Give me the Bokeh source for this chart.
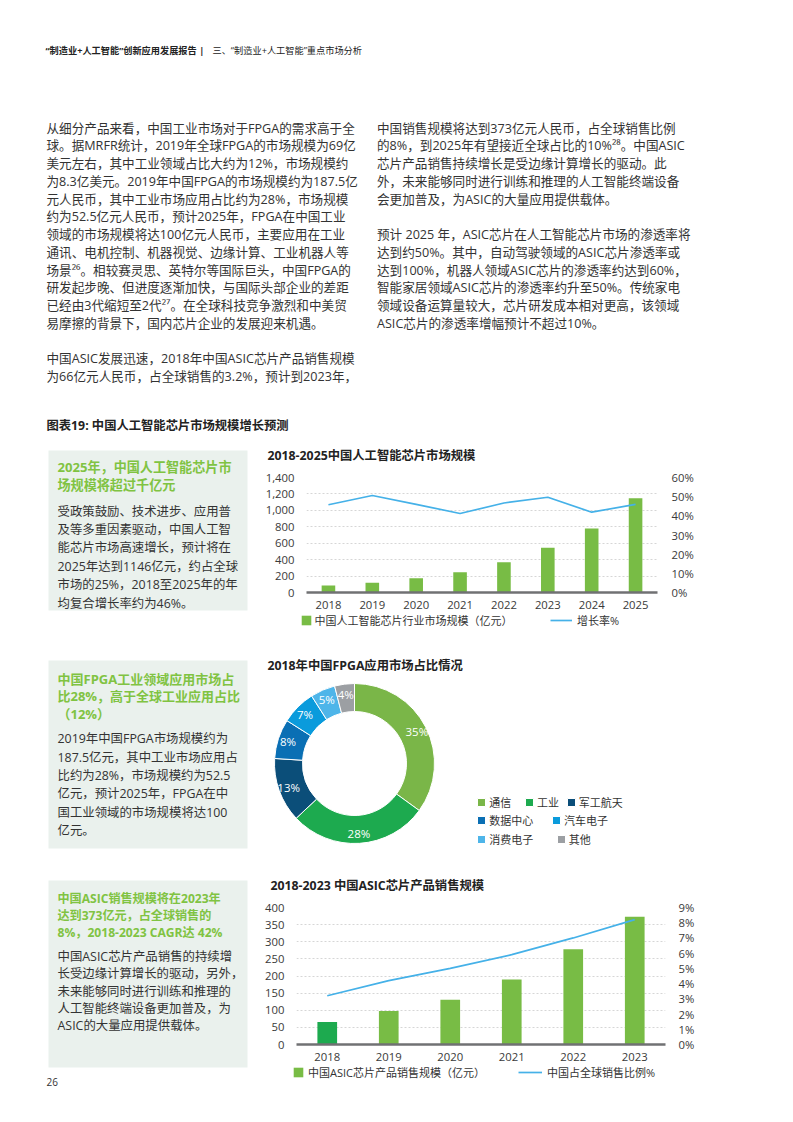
import math
from bokeh.plotting import figure
from bokeh.layouts import column, row
from bokeh.models import (Range1d, FactorRange, LinearAxis, FixedTicker, Legend, LegendItem,
                          NumeralTickFormatter, PrintfTickFormatter, ColumnDataSource)
from bokeh.core.properties import value
from bokeh.embed import file_html
from bokeh.resources import INLINE

# ---------------- data ----------------
ai_years = ["2018", "2019", "2020", "2021", "2022", "2023", "2024", "2025"]
ai_market = [84, 120, 175, 247, 367, 546, 778, 1146]          # 亿元
ai_growth = [45.8, 50.6, 46.0, 41.2, 46.7, 49.7, 41.9, 46.0]  # %
ai_left_ticks = [0, 200, 400, 600, 800, 1000, 1200, 1400]
ai_right_ticks = [0, 10, 20, 30, 40, 50, 60]

fpga_segments = ["通信", "工业", "军工航天", "数据中心", "汽车电子", "消费电子", "其他"]
fpga_share = [35, 28, 13, 8, 7, 5, 4]

asic_years = ["2018", "2019", "2020", "2021", "2022", "2023"]
asic_sales = [66, 98, 131, 190, 278, 373]                      # 亿元
asic_share = [3.2, 4.2, 5.0, 5.9, 7.0, 8.2]                    # %
asic_left_ticks = [0, 50, 100, 150, 200, 250, 300, 350, 400]
asic_right_ticks = [0, 1, 2, 3, 4, 5, 6, 7, 8, 9]

# ---------------- texts ----------------
header_bold = "“制造业+人工智能”创新应用发展报告 |"
header_norm = "三、“制造业+人工智能”重点市场分析"

left_para = [
    "从细分产品来看，中国工业市场对于FPGA的需求高于全",
    "球。据MRFR统计，2019年全球FPGA的市场规模为69亿",
    "美元左右，其中工业领域占比大约为12%，市场规模约",
    "为8.3亿美元。2019年中国FPGA的市场规模约为187.5亿",
    "元人民币，其中工业市场应用占比约为28%，市场规模",
    "约为52.5亿元人民币，预计2025年，FPGA在中国工业",
    "领域的市场规模将达100亿元人民币，主要应用在工业",
    "通讯、电机控制、机器视觉、边缘计算、工业机器人等",
    "场景²⁶。相较赛灵思、英特尔等国际巨头，中国FPGA的",
    "研发起步晚、但进度逐渐加快，与国际头部企业的差距",
    "已经由3代缩短至2代²⁷。在全球科技竞争激烈和中美贸",
    "易摩擦的背景下，国内芯片企业的发展迎来机遇。",
    "",
    "中国ASIC发展迅速，2018年中国ASIC芯片产品销售规模",
    "为66亿元人民币，占全球销售的3.2%，预计到2023年，",
]
right_para = [
    "中国销售规模将达到373亿元人民币，占全球销售比例",
    "的8%，到2025年有望接近全球占比的10%²⁸。中国ASIC",
    "芯片产品销售持续增长是受边缘计算增长的驱动。此",
    "外，未来能够同时进行训练和推理的人工智能终端设备",
    "会更加普及，为ASIC的大量应用提供载体。",
    "",
    "预计 2025 年，ASIC芯片在人工智能芯片市场的渗透率将",
    "达到约50%。其中，自动驾驶领域的ASIC芯片渗透率或",
    "达到100%，机器人领域ASIC芯片的渗透率约达到60%，",
    "智能家居领域ASIC芯片的渗透率约升至50%。传统家电",
    "领域设备运算量较大，芯片研发成本相对更高，该领域",
    "ASIC芯片的渗透率增幅预计不超过10%。",
]
fig_caption = "图表19: 中国人工智能芯片市场规模增长预测"

side1_head = ["2025年，中国人工智能芯片市", "场规模将超过千亿元"]
side1_body = ["受政策鼓励、技术进步、应用普", "及等多重因素驱动，中国人工智",
              "能芯片市场高速增长，预计将在", "2025年达到1146亿元，约占全球",
              "市场的25%，2018至2025年的年", "均复合增长率约为46%。"]
side2_head = ["中国FPGA工业领域应用市场占", "比28%，高于全球工业应用占比", "（12%）"]
side2_body = ["2019年中国FPGA市场规模约为", "187.5亿元，其中工业市场应用占",
              "比约为28%，市场规模约为52.5", "亿元，预计2025年，FPGA在中",
              "国工业领域的市场规模将达100", "亿元。"]
side3_head = ["中国ASIC销售规模将在2023年", "达到373亿元，占全球销售的",
              "8%，2018-2023 CAGR达 42%"]
side3_body = ["中国ASIC芯片产品销售的持续增", "长受边缘计算增长的驱动，另外，",
              "未来能够同时进行训练和推理的", "人工智能终端设备更加普及，为",
              "ASIC的大量应用提供载体。"]

chart1_title = "2018-2025中国人工智能芯片市场规模"
chart1_bar_label = "中国人工智能芯片行业市场规模（亿元）"
chart1_line_label = "增长率%"
chart2_title = "2018年中国FPGA应用市场占比情况"
chart3_title = "2018-2023 中国ASIC芯片产品销售规模"
chart3_bar_label = "中国ASIC芯片产品销售规模（亿元）"
chart3_line_label = "中国占全球销售比例%"

# ---------------- styles ----------------
FONT = "Open Sans, Noto Sans CJK SC"
TXT = "#333333"
DARK = "#222222"
HEAD_GREEN = "#80C342"
BOX = "#EAF1ED"
LIME = "#78BC45"
DEEP_GREEN = "#1DAA4F"
BLUE = "#45B1E8"
fpga_colors = ["#7AB648", "#1DAA4F", "#0B4E79", "#0A6FB4", "#0A9BDC", "#4EB5E9", "#9C9FA3"]
PAGE_W = 793
LEG_HALF = 7.5


def canvas(x0, x1, y0, y1):
    p = figure(width=x1 - x0, height=y1 - y0, x_range=Range1d(x0, x1), y_range=Range1d(-y1, -y0),
               output_backend="svg", toolbar_location=None, x_axis_type=None, y_axis_type=None,
               min_border=0, outline_line_color=None, background_fill_color="white",
               border_fill_color="white", frame_align=False, title=None)
    return p


def txt(p, xs, ys, texts, size, color=TXT, style="normal", align="left"):
    p.text(x=xs, y=[-y for y in ys], text=texts, text_font=value(FONT),
           text_font_size=f"{size}px", text_font_style=style, text_color=color,
           text_baseline="middle", text_align=align)


def lines_y(y0, step, n):
    return [y0 + step * i for i in range(n)]


def make_legend(item, vx, vy, gw, gh, standoff):
    return Legend(items=[item], location=(vx, vy), orientation="horizontal",
                  glyph_width=gw, glyph_height=gh, label_standoff=standoff,
                  padding=0, margin=0, spacing=0, border_line_color=None,
                  background_fill_alpha=0, label_text_font=FONT, label_text_font_size="11px",
                  label_text_color=TXT)


# ---------------- top text block ----------------
TOP_H = 440
top = canvas(0, PAGE_W, 0, TOP_H)
txt(top, [45], [50], [header_bold], 9.2, color=DARK, style="bold")
txt(top, [212], [50], [header_norm], 9.2, color=DARK)
lp = [(t, y) for t, y in zip(left_para, lines_y(127.5, 17.75, len(left_para))) if t]
txt(top, [46] * len(lp), [y for _, y in lp], [t for t, _ in lp], 12.6)
rp = [(t, y) for t, y in zip(right_para, lines_y(127.5, 17.75, len(right_para))) if t]
txt(top, [376.5] * len(rp), [y for _, y in rp], [t for t, _ in rp], 12.6)
txt(top, [46], [425], [fig_caption], 12.3, color=DARK, style="bold")


# ---------------- sidebars ----------------
def sidebar(y0, y1, box_top, box_bottom, head, head_y, head_step, head_size, body, body_y, body_step):
    s = canvas(0, 262, y0, y1)
    s.quad(left=[48], right=[247], top=[-box_top], bottom=[-box_bottom], fill_color=BOX, line_color=None)
    txt(s, [57] * len(head), lines_y(head_y, head_step, len(head)), head, head_size,
        color=HEAD_GREEN, style="bold")
    txt(s, [57] * len(body), lines_y(body_y, body_step, len(body)), body, 12.4)
    return s


side1 = sidebar(TOP_H, 640, 450, 610, side1_head, 466, 18.5, 13.1, side1_body, 510.5, 18.4)
side2 = sidebar(640, 862, 660, 848, side2_head, 678, 17.7, 13.0, side2_body, 738.3, 18.3)
side3 = sidebar(862, 1112, 880, 1067, side3_head, 898.3, 16.7, 12.1, side3_body, 956, 17.3)
txt(side3, [46], [1081], ["26"], 10, color=TXT)


# ---------------- bar + line charts ----------------
def style_axis(a, standoff):
    a.axis_line_color = None
    a.major_tick_line_color = None
    a.minor_tick_line_color = None
    a.major_label_text_font = FONT
    a.major_label_text_font_size = "11.3px"
    a.major_label_text_color = "#3a3a3a"
    a.major_label_standoff = standoff


def title_strip(y0, y1, x, y, text):
    s = canvas(262, PAGE_W, y0, y1)
    txt(s, [x], [y], [text], 12.3, color=DARK, style="bold")
    return s


def bar_line_chart(y0, y1, years, bars, line, bar_colors, left_ticks, right_ticks, pct_max,
                   bar_width, frame, right_standoff, left_fmt):
    fl, fr, ft, fb = frame   # frame edges in page pixels
    p = figure(width=PAGE_W - 262, height=y1 - y0, x_range=FactorRange(factors=years),
               y_range=Range1d(0, left_ticks[-1]), output_backend="svg", toolbar_location=None,
               min_border_left=fl - 262, min_border_right=PAGE_W - fr,
               min_border_top=ft - y0, min_border_bottom=y1 - fb, title=None,
               outline_line_color=None, background_fill_color="white",
               border_fill_color="white", frame_align=False)
    p.extra_y_ranges = {"pct": Range1d(0, pct_max)}
    src = ColumnDataSource(dict(year=years, val=bars, pct=line, color=bar_colors))
    p.vbar(x="year", top="val", width=bar_width, source=src, fill_color="color", line_color=None)
    p.line(x="year", y="pct", source=src, y_range_name="pct", line_color=BLUE, line_width=1.7)

    ra = LinearAxis(y_range_name="pct", ticker=FixedTicker(ticks=right_ticks),
                    formatter=PrintfTickFormatter(format="%d%%"))
    p.add_layout(ra, "right")
    la = p.left[0]
    la.ticker = FixedTicker(ticks=left_ticks)
    la.formatter = NumeralTickFormatter(format=left_fmt)
    style_axis(la, 6)
    style_axis(ra, right_standoff)
    xa = p.below[0]
    style_axis(xa, 2)
    xa.axis_line_color = "#707173"
    xa.axis_line_width = 2.5
    p.xgrid.visible = False
    p.ygrid.ticker = FixedTicker(ticks=left_ticks)
    p.ygrid.grid_line_color = "#d6d6d6"
    p.ygrid.grid_line_dash = "2 2"
    return p


def legend_strip(y0, y1, center, bar_color, bar_label, bar_box_x, bar_standoff,
                 line_label, line_x, line_w, line_standoff):
    s = canvas(262, PAGE_W, y0, y1)
    # representative glyphs for the legend, placed outside the visible strip
    rb = s.vbar(x=[-5000], top=[-5000], bottom=[-5001], width=1, fill_color=bar_color, line_color=None)
    rl = s.line(x=[-5000, -4999], y=[-5000, -5000], line_color=BLUE, line_width=1.7)
    vy = y1 - (center + LEG_HALF)
    s.add_layout(make_legend(LegendItem(label=bar_label, renderers=[rb]),
                             bar_box_x - 262, vy, 12, 12, bar_standoff))
    s.add_layout(make_legend(LegendItem(label=line_label, renderers=[rl]),
                             line_x - 262, vy, line_w, 12, line_standoff))
    return s


t1 = title_strip(TOP_H, 466, 267, 455, chart1_title)
c1 = bar_line_chart(466, 611, ai_years, ai_market, ai_growth, [LIME] * len(ai_years),
                    ai_left_ticks, ai_right_ticks, 60, 0.31, (300, 657, 477, 594), 8, "0,0")
leg1 = legend_strip(611, 640, 620, LIME, chart1_bar_label, 299.5, 3,
                    chart1_line_label, 550, 22, 5)

t3 = title_strip(862, 896, 270, 885, chart3_title)
c3 = bar_line_chart(896, 1063, asic_years, asic_sales, asic_share,
                    [DEEP_GREEN] + [LIME] * (len(asic_years) - 1),
                    asic_left_ticks, asic_right_ticks, 9, 0.32, (294, 665, 907, 1045), 7, "0")
leg3 = legend_strip(1063, 1112, 1072, LIME, chart3_bar_label, 292, 4,
                    chart3_line_label, 518, 24, 5)

# ---------------- donut chart ----------------
d = canvas(262, PAGE_W, 640, 862)
txt(d, [267], [665], [chart2_title], 12.3, color=DARK, style="bold")
cx, cy, r_in, r_out, r_lab = 354, -763, 52, 80, 70
total = sum(fpga_share)
cum = [0]
for v in fpga_share:
    cum.append(cum[-1] + v / total)
starts = [math.pi / 2 - 2 * math.pi * c for c in cum[1:]]
ends = [math.pi / 2 - 2 * math.pi * c for c in cum[:-1]]
dsrc = ColumnDataSource(dict(seg=fpga_segments, share=fpga_share, start=starts, end=ends,
                             color=fpga_colors))
wr = d.annular_wedge(x=cx, y=cy, inner_radius=r_in, outer_radius=r_out, start_angle="start",
                     end_angle="end", fill_color="color", line_color="white", line_width=1,
                     source=dsrc)
mids = [(a + b) / 2 for a, b in zip(starts, ends)]
d.text(x=[cx + r_lab * math.cos(m) for m in mids], y=[cy + r_lab * math.sin(m) for m in mids],
       text=[f"{v}%" for v in fpga_share], text_font=value(FONT), text_font_size="11.5px",
       text_color="white", text_align="center", text_baseline="middle")

legend_pos = [(476.3, 802.3), (524, 802.3), (565.7, 802.3), (476.3, 820.7), (551, 820.7),
              (476.3, 839), (555.7, 839)]
for i, (px, py) in enumerate(legend_pos):
    d.add_layout(make_legend(LegendItem(label=fpga_segments[i], renderers=[wr], index=i),
                             px - 262, 862 - (py + LEG_HALF), 10, 10, 3))

layout = column(top,
                row(side1, column(t1, c1, leg1)),
                row(side2, d),
                row(side3, column(t3, c3, leg3)))
open("out.html", "w").write(file_html(layout, INLINE))
